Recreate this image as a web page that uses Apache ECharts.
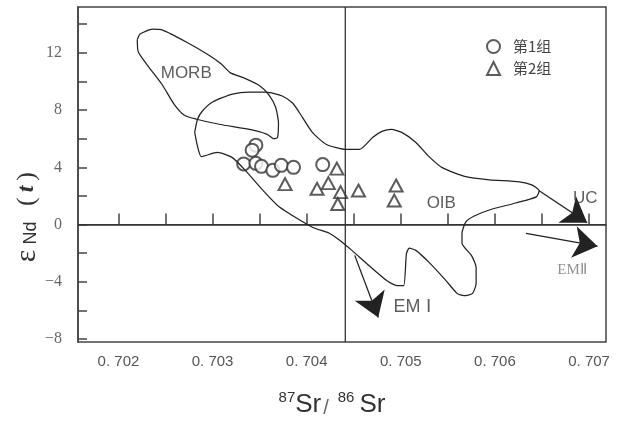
<!DOCTYPE html>
<html>
<head>
<meta charset="utf-8">
<script src="https://cdn.jsdelivr.net/npm/echarts@6/dist/echarts.min.js"></script>
<style>
  html, body { margin: 0; padding: 0; background: #fff; }
  #SrNdChart { width: 628px; height: 423px; }
</style>
</head>
<body>
<div id="SrNdChart"></div>
<script>
// 87Sr/86Sr - εNd(t) 图解
const xTickValues = [0.702, 0.7025, 0.703, 0.7035, 0.704, 0.7045, 0.705, 0.7055, 0.706, 0.7065, 0.707]
const xLabelValues = [0.702, 0.703, 0.704, 0.705, 0.706, 0.707]
const yTickValues = [-8, -6, -4, -2, 0, 2, 4, 6, 8, 10, 12, 14]
const yLabelValues = [-8, -4, 0, 4, 8, 12]

const legendNames = ['第1组', '第2组']

// 第1组 [87Sr/86Sr, εNd(t)]
const group1 = [
  [0.70346, 5.55], [0.70342, 5.20], [0.70333, 4.24], [0.70346, 4.28], [0.70352, 4.07],
  [0.70364, 3.79], [0.70373, 4.14], [0.70386, 4.00], [0.70417, 4.19]
]
// 第2组
const group2 = [
  [0.70377, 2.83], [0.70432, 3.91], [0.70411, 2.50], [0.70423, 2.90], [0.70436, 2.27],
  [0.70433, 1.44], [0.70455, 2.38], [0.70495, 2.73], [0.70493, 1.68]
]

// MORB 区域边界
const morbField = [
  [0.70220, 12.92], [0.70223, 13.31], [0.70236, 13.65], [0.70247, 13.58], [0.70272, 12.75],
  [0.70297, 11.80], [0.70309, 11.23], [0.70319, 10.60], [0.70332, 10.28], [0.70350, 9.70],
  [0.70360, 9.05], [0.70367, 8.20], [0.70370, 7.08], [0.70369, 6.09], [0.70365, 5.99],
  [0.70358, 6.30], [0.70342, 6.61], [0.70307, 7.01], [0.70283, 7.36], [0.70270, 7.64],
  [0.70259, 8.42], [0.70246, 9.82], [0.70231, 11.11], [0.70221, 12.08], [0.70220, 12.92]
]

// OIB 区域边界
const oibField = [
  [0.70281, 6.44], [0.70284, 7.36], [0.70289, 7.92], [0.70300, 8.56], [0.70321, 9.12],
  [0.70339, 9.26], [0.70357, 9.26], [0.70374, 8.98], [0.70385, 8.49], [0.70392, 7.85],
  [0.70406, 6.44], [0.70421, 5.60], [0.70442, 5.25], [0.70456, 5.25], [0.70470, 6.09],
  [0.70480, 6.51], [0.70490, 6.65], [0.70501, 6.44], [0.70516, 5.74], [0.70530, 4.75],
  [0.70544, 3.98], [0.70569, 3.35], [0.70594, 3.13], [0.70626, 2.99], [0.70639, 2.78],
  [0.70647, 2.36], [0.70644, 1.94], [0.70622, 1.51], [0.70594, 1.02], [0.70578, 0.60],
  [0.70569, 0.18], [0.70565, -0.60], [0.70565, -1.30], [0.70575, -2.15], [0.70580, -2.99],
  [0.70580, -4.12], [0.70576, -4.82], [0.70567, -4.96], [0.70560, -4.82], [0.70548, -3.91],
  [0.70530, -2.64], [0.70516, -1.80], [0.70509, -1.65], [0.70506, -2.01], [0.70503, -4.26],
  [0.70496, -4.26], [0.70485, -3.91], [0.70466, -2.85], [0.70448, -1.80], [0.70435, -1.09],
  [0.70424, -0.60], [0.70406, -0.18], [0.70371, 1.23], [0.70353, 2.43], [0.70336, 3.70],
  [0.70321, 4.68], [0.70305, 5.04], [0.70288, 4.75], [0.70284, 5.46], [0.70281, 6.44]
]

// 端元趋势箭头 (起点, 箭头尖)
const arrowUC = [[0.70647, 2.36], [0.70698, 0.13]]
const arrowEM2 = [[0.70633, -0.62], [0.70709, -1.51]]
const arrowEM1 = [[0.70451, -2.15], [0.70476, -6.49]]

// 区域/端元名称
const fieldNames = ['MORB', 'OIB', 'UC', 'EMⅡ', 'EM Ⅰ']
const fieldAnchors = [[0.70272, 10.6], [0.70543, 1.49], [0.70696, 1.85], [0.70682, -3.20], [0.70512, -5.79]]

// 参考线
const yRange = [-8.2, 15.2]
const bulkEarthSr = 0.70441
const chondriteNd = 0

const sansFont = 'Liberation Sans, Arial, sans-serif'
const serifFont = 'Liberation Serif, Times New Roman, serif'

let myChart = echarts.init(document.getElementById('SrNdChart'))

const labelData = fieldNames.map((name, i) => {
  let item = { name: name, value: fieldAnchors[i] }
  if (name == 'EMⅡ') {
    item.label = { fontFamily: serifFont, fontSize: 15, color: '#777' }
  }
  if (name == 'EM Ⅰ') {
    item.label = { fontSize: 18 }
  }
  return item
})

const lineStyleBase = { color: '#222', width: 1.25 }

let option = {
  animation: false,
  grid: {
    show: true,
    left: 78,
    right: 22,
    top: 7,
    bottom: 81,
    borderColor: '#444',
    borderWidth: 1.5
  },
  legend: {
    data: legendNames,
    orient: 'vertical',
    left: 481,
    top: 34,
    itemWidth: 13,
    itemHeight: 13,
    itemGap: 7,
    textStyle: {
      fontFamily: 'Noto Sans CJK SC, ' + sansFont,
      fontSize: 15,
      color: '#444',
      padding: [0, 0, 0, 8]
    }
  },
  xAxis: {
    type: 'value',
    min: 0.70157,
    max: 0.70718,
    splitLine: { show: false },
    axisLine: { lineStyle: { color: '#444', width: 1.5 } },
    axisTick: {
      inside: true,
      length: 11,
      customValues: xTickValues,
      lineStyle: { color: '#444', width: 1.5 }
    },
    axisLabel: {
      customValues: xLabelValues,
      margin: 12,
      fontFamily: sansFont,
      fontSize: 15,
      color: '#555',
      formatter: function (value) {
        return '0. ' + Math.round(value * 1000)
      }
    }
  },
  yAxis: {
    type: 'value',
    min: yRange[0],
    max: yRange[1],
    splitLine: { show: false },
    axisLine: { lineStyle: { color: '#444', width: 1.5 } },
    axisTick: {
      inside: true,
      length: 9,
      customValues: yTickValues,
      lineStyle: { color: '#444', width: 1.5 }
    },
    axisLabel: {
      customValues: yLabelValues,
      margin: 16,
      fontFamily: serifFont,
      fontSize: 16,
      color: '#666',
      formatter: function (value) {
        return value < 0 ? '−' + (-value) : String(value)
      }
    }
  },
  series: [
    {
      name: 'Sr ref',
      type: 'line',
      data: [[bulkEarthSr, yRange[0]], [bulkEarthSr, yRange[1]]],
      showSymbol: false,
      silent: true,
      lineStyle: { color: '#333', width: 1.3 }
    },
    {
      name: 'Nd ref',
      type: 'line',
      data: [[0.70157, chondriteNd], [0.70718, chondriteNd]],
      showSymbol: false,
      silent: true,
      lineStyle: { color: '#333', width: 1.3 }
    },
    {
      name: 'MORB',
      type: 'line',
      data: morbField,
      showSymbol: false,
      smooth: 0.2,
      silent: true,
      lineStyle: lineStyleBase
    },
    {
      name: 'OIB',
      type: 'line',
      data: oibField,
      showSymbol: false,
      smooth: 0.2,
      silent: true,
      lineStyle: lineStyleBase
    },
    {
      name: 'arrows',
      type: 'lines',
      coordinateSystem: 'cartesian2d',
      symbol: ['none', 'arrow'],
      symbolSize: 24,
      silent: true,
      lineStyle: { color: '#222', width: 1.3, opacity: 1 },
      data: [arrowUC, arrowEM2, arrowEM1].map(c => ({ coords: c }))
    },
    {
      name: legendNames[0],
      type: 'scatter',
      symbol: 'emptyCircle',
      symbolSize: 13,
      itemStyle: { color: '#333', borderWidth: 1.3 },
      data: group1
    },
    {
      name: legendNames[1],
      type: 'scatter',
      symbol: 'emptyTriangle',
      symbolSize: [13, 12],
      itemStyle: { color: '#333', borderWidth: 1.3 },
      data: group2
    },
    {
      name: 'fieldLabels',
      type: 'scatter',
      symbolSize: 0,
      silent: true,
      data: labelData,
      label: {
        show: true,
        position: 'inside',
        formatter: '{b}',
        fontFamily: sansFont,
        fontSize: 17,
        color: '#333'
      }
    }
  ],
  graphic: [
    {
      type: 'text',
      x: 27,
      y: 256,
      rotation: Math.PI / 2,
      style: { text: 'ε', font: '30px ' + serifFont, fill: '#333', align: 'center', verticalAlign: 'middle', textAlign: 'center', textVerticalAlign: 'middle' }
    },
    {
      type: 'text',
      x: 31,
      y: 233,
      rotation: Math.PI / 2,
      style: { text: 'Nd', font: '18px ' + sansFont, fill: '#333', align: 'center', verticalAlign: 'middle', textAlign: 'center', textVerticalAlign: 'middle' }
    },
    {
      type: 'text',
      x: 27,
      y: 189,
      rotation: Math.PI / 2,
      style: {
        text: '{p|(}{t|t}{p|)}',
        fill: '#333',
        align: 'center', verticalAlign: 'middle', textAlign: 'center', textVerticalAlign: 'middle',
        rich: {
          p: { font: '26px ' + serifFont, fill: '#333' },
          t: { font: 'italic bold 24px ' + serifFont, fill: '#333', padding: [0, 5, 0, 5] }
        }
      }
    },
    {
      type: 'text',
      x: 332,
      y: 404,
      style: {
        text: '{sup|87}{b|Sr}{sl|/}{sup2|86}{b|Sr}',
        align: 'center', verticalAlign: 'middle', textAlign: 'center', textVerticalAlign: 'middle',
        rich: {
          sup: { font: '15px ' + sansFont, fill: '#333', verticalAlign: 'top', lineHeight: 16 },
          sup2: { font: '15px ' + sansFont, fill: '#333', verticalAlign: 'top', lineHeight: 16, padding: [0, 5, 0, 0] },
          b: { font: '26px ' + sansFont, fill: '#333', verticalAlign: 'bottom', lineHeight: 28 },
          sl: { font: '20px ' + sansFont, fill: '#666', verticalAlign: 'bottom', lineHeight: 26, padding: [0, 9, 0, 2] }
        }
      }
    }
  ]
}
myChart.setOption(option)
</script>
</body>
</html>
